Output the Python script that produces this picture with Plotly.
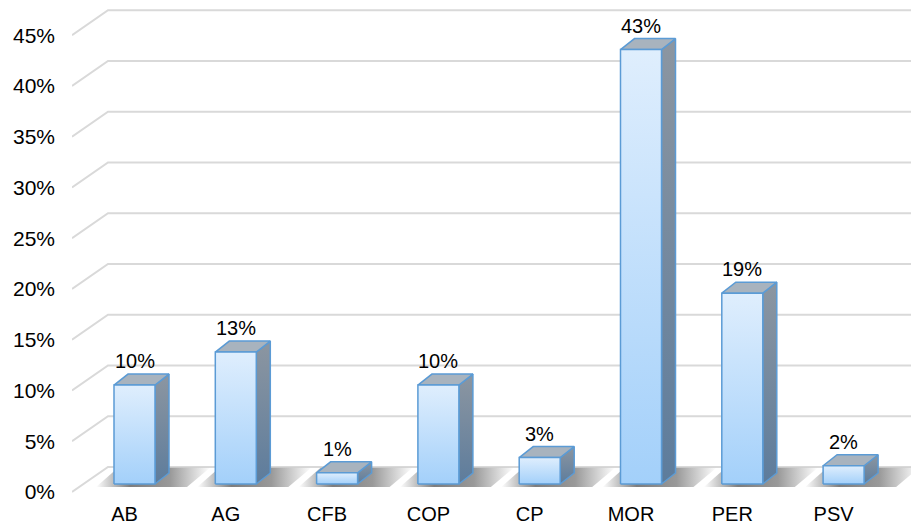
import plotly.graph_objects as go

# ---- data ----
categories = ["AB", "AG", "CFB", "COP", "CP", "MOR", "PER", "PSV"]
values = [9.75, 13.0, 1.1, 9.75, 2.6, 42.8, 18.8, 1.8]          # percent
tick_values = [0, 5, 10, 15, 20, 25, 30, 35, 40, 45]
tick_labels = [f"{t}%" for t in tick_values]
value_labels = [f"{round(v)}%" for v in values]

# ---- geometry / style ----
PX_X = 101.3      # px per category
PX_Y = 10.15      # px per percent
W, H = 911, 526
ML, MB = 72, 30
x_range = [(ML - 124.5) / PX_X, (W - 124.5) / PX_X]
bar_range = [(484 - (H - MB)) / PX_Y, 484 / PX_Y]
frame_range = [(492 - (H - MB)) / PX_Y, 492 / PX_Y]

BAR_OFF = 10 / PX_X
HALF_W = 20.5 / PX_X
DX = 14 / PX_X
DY = 11 / PX_Y
WALL_DX = 36 / PX_X
WALL_DY = 25 / PX_Y

FONT = "Liberation Sans, Arial, sans-serif"
GRID = "#d9d9d9"
EDGE = "#5b9bd5"

fig = go.Figure()

# gridlines (3D wall) on the frame axis
for g in tick_values:
    fig.add_trace(go.Scatter(
        x=[x_range[0], x_range[0] + WALL_DX, x_range[1]],
        y=[g, g + WALL_DY, g + WALL_DY],
        mode="lines", line=dict(color=GRID, width=2),
        hoverinfo="skip", showlegend=False, xaxis="x", yaxis="y"))

# shadows on the floor
for i, v in enumerate(values):
    xl = i + BAR_OFF - HALF_W
    xr = i + BAR_OFF + HALF_W
    sx0, sx1 = xl - 18 / PX_X, xr + 55 / PX_X
    fig.add_trace(go.Scatter(
        x=[xl - 18 / PX_X, xr + 32 / PX_X, xr + 55 / PX_X, xl + 4 / PX_X, xl - 18 / PX_X],
        y=[-0.3, -0.3, 1.6, 1.6, -0.3],
        mode="lines", line=dict(width=0), fill="toself",
        fillgradient=dict(type="horizontal", start=sx0, stop=sx1,
                          colorscale=[[0, "rgba(70,70,70,0)"], [0.3, "rgba(70,70,70,0.7)"],
                                      [0.65, "rgba(70,70,70,0.55)"], [1, "rgba(70,70,70,0)"]]),
        hoverinfo="skip", showlegend=False, xaxis="x", yaxis="y2"))

# bars: side, top, front
for i, v in enumerate(values):
    xl = i + BAR_OFF - HALF_W
    xr = i + BAR_OFF + HALF_W
    # side face
    fig.add_trace(go.Scatter(
        x=[xr, xr, xr + DX, xr + DX, xr], y=[0, v, v + DY, DY, 0],
        mode="lines", line=dict(color=EDGE, width=1.5), fill="toself",
        fillgradient=dict(type="vertical", start=0, stop=v + DY,
                          colorscale=[[0, "#5d7c9c"], [1, "#8c96a1"]]),
        hoverinfo="skip", showlegend=False, xaxis="x", yaxis="y2"))
    # top face
    fig.add_trace(go.Scatter(
        x=[xl, xl + DX, xr + DX, xr, xl], y=[v, v + DY, v + DY, v, v],
        mode="lines", line=dict(color=EDGE, width=1.5), fill="toself",
        fillcolor="#a8b3be",
        hoverinfo="skip", showlegend=False, xaxis="x", yaxis="y2"))
    # front face
    fig.add_trace(go.Scatter(
        x=[xl, xl, xr, xr, xl], y=[0, v, v, 0, 0],
        mode="lines", line=dict(color=EDGE, width=1.5), fill="toself",
        fillgradient=dict(type="vertical", start=0, stop=v,
                          colorscale=[[0, "#a3d0fa"], [1, "#dfeefd"]]),
        name=categories[i], hovertemplate=f"{categories[i]}: {value_labels[i]}<extra></extra>",
        showlegend=False, xaxis="x", yaxis="y2"))

# value labels
annotations = [
    dict(x=i + BAR_OFF, y=v, xref="x", yref="y2", text=value_labels[i],
         showarrow=False, yshift=24, xanchor="center", yanchor="middle",
         font=dict(family=FONT, size=20, color="#000000"))
    for i, v in enumerate(values)
]

fig.update_layout(
    width=W, height=H,
    margin=dict(l=ML, r=0, t=0, b=MB),
    paper_bgcolor="white", plot_bgcolor="white",
    font=dict(family=FONT, size=20, color="#000000"),
    annotations=annotations,
    xaxis=dict(range=x_range, tickmode="array", tickvals=list(range(len(categories))),
               ticktext=categories, showgrid=False, zeroline=False, showline=False,
               ticks="", ticklabelstandoff=4, fixedrange=True),
    yaxis=dict(range=frame_range, tickmode="array", tickvals=tick_values, ticktext=tick_labels,
               showgrid=False, zeroline=False, showline=False, ticks="",
               ticklabelstandoff=16, tickfont=dict(size=21), fixedrange=True),
    yaxis2=dict(range=bar_range, overlaying="y", visible=False, fixedrange=True),
)

fig.write_html("out.html", config={"displayModeBar": False},
               post_script="document.body.style.margin='0';document.body.style.overflow='hidden';")
